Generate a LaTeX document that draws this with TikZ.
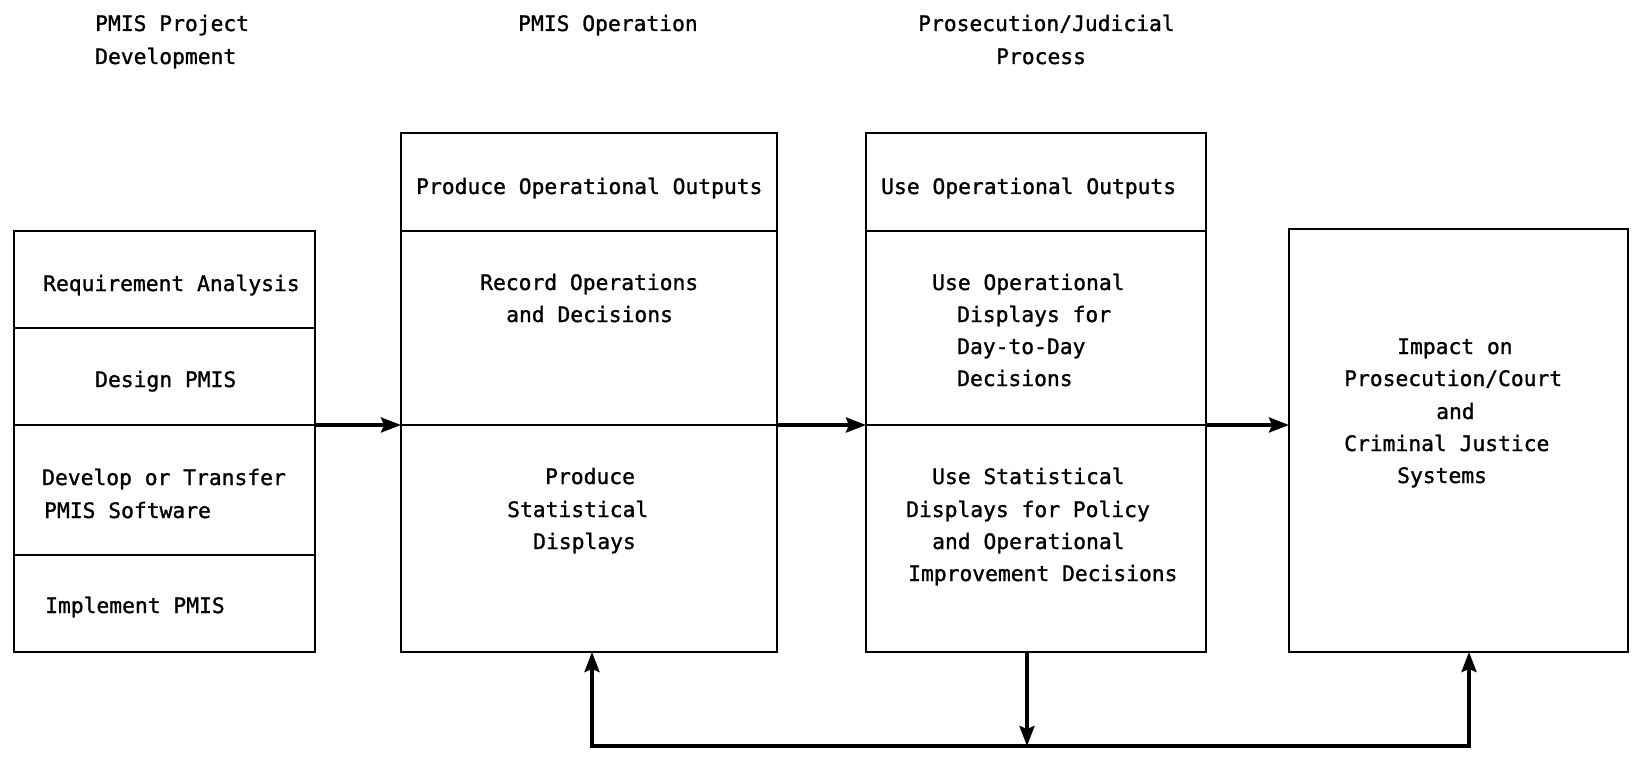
\documentclass[tikz,border=0pt]{standalone}
\usepackage{fontspec}
\newfontfamily\diagmono[FakeBold=1.2]{DejaVu Sans Mono}
\usetikzlibrary{arrows.meta}
\begin{document}
\begin{tikzpicture}[x=1pt,y=-1pt,
  boxshape/.style={draw, line width=2pt, inner sep=0pt, outer sep=0pt, anchor=north west},
  lbl/.style={anchor=base west, inner sep=0pt, font=\diagmono\fontsize{21.3}{25}\selectfont},
  tip/.tip={Stealth[length=20pt,width=15pt,inset=3pt]},
  flow/.style={line width=3.5pt, -tip},
  divider/.style={line width=1.6pt}]
\useasboundingbox[fill=white] (0,0) rectangle (1634,762);
% boxes
\node[boxshape, minimum width=301pt, minimum height=421pt] (L) at (14,231) {};
\node[boxshape, minimum width=376pt, minimum height=519pt] (B2) at (401,133) {};
\node[boxshape, minimum width=340pt, minimum height=519pt] (B3) at (866,133) {};
\node[boxshape, minimum width=339pt, minimum height=423pt] (B4) at (1289,229) {};
% helper coordinates
\coordinate (d1) at (0,328);
\coordinate (mid) at (0,425);
\coordinate (d3) at (0,555);
\coordinate (top) at (0,231);
\coordinate (fb) at (0,746);
\coordinate (xl) at (592,0);
\coordinate (xc) at (1027,0);
\coordinate (xr) at (1469,0);
% dividers
\draw[divider] (L.west |- d1) -- (L.east |- d1);
\draw[divider] (L.west |- mid) -- (L.east |- mid);
\draw[divider] (L.west |- d3) -- (L.east |- d3);
\draw[divider] (B2.west |- top) -- (B2.east |- top);
\draw[divider] (B2.west |- mid) -- (B2.east |- mid);
\draw[divider] (B3.west |- top) -- (B3.east |- top);
\draw[divider] (B3.west |- mid) -- (B3.east |- mid);
% arrows
\draw[flow] (L.east |- mid) -- (B2.west |- mid);
\draw[flow] (B2.east |- mid) -- (B3.west |- mid);
\draw[flow] (B3.east |- mid) -- (B4.west |- mid);
\draw[line width=3.5pt, line join=miter, tip-tip] (xl |- B2.south) -- (xl |- fb) -- (xr |- fb) -- (xr |- B4.south);
\draw[flow] (xc |- B3.south) -- (xc |- fb);
% headers
\node[lbl] (h1a) at (95,31) {PMIS Project};
\node[lbl] (h1b) at (95,64) {Development};
\node[lbl] (h2) at (518,31) {PMIS Operation};
\node[lbl] (h3a) at (918,31) {Prosecution/Judicial};
\node[lbl] (h3b) at (996,64) {Process};
% left box
\node[lbl] (l1) at (43,291) {Requirement Analysis};
\node[lbl] (l2) at (95,387) {Design PMIS};
\node[lbl] (l3a) at (42,485) {Develop or Transfer};
\node[lbl] (l3b) at (44,518) {PMIS Software};
\node[lbl] (l4) at (45,613) {Implement PMIS};
% box 2
\node[lbl] (b2a) at (416,194) {Produce Operational Outputs};
\node[lbl] (b2b) at (480,290) {Record Operations};
\node[lbl] (b2c) at (506,322) {and Decisions};
\node[lbl] (b2d) at (545,484) {Produce};
\node[lbl] (b2e) at (507,517) {Statistical};
\node[lbl] (b2f) at (533,549) {Displays};
% box 3
\node[lbl] (b3a) at (881,194) {Use Operational Outputs};
\node[lbl] (b3b) at (932,290) {Use Operational};
\node[lbl] (b3c) at (957,322) {Displays for};
\node[lbl] (b3d) at (957,354) {Day-to-Day};
\node[lbl] (b3e) at (957,386) {Decisions};
\node[lbl] (b3f) at (932,484) {Use Statistical};
\node[lbl] (b3g) at (906,517) {Displays for Policy};
\node[lbl] (b3h) at (932,549) {and Operational};
\node[lbl] (b3i) at (908,581) {Improvement Decisions};
% box 4
\node[lbl] (b4a) at (1397,354) {Impact on};
\node[lbl] (b4b) at (1344,386) {Prosecution/Court};
\node[lbl] (b4c) at (1436,419) {and};
\node[lbl] (b4d) at (1344,451) {Criminal Justice};
\node[lbl] (b4e) at (1397,483) {Systems};
\end{tikzpicture}
\end{document}
